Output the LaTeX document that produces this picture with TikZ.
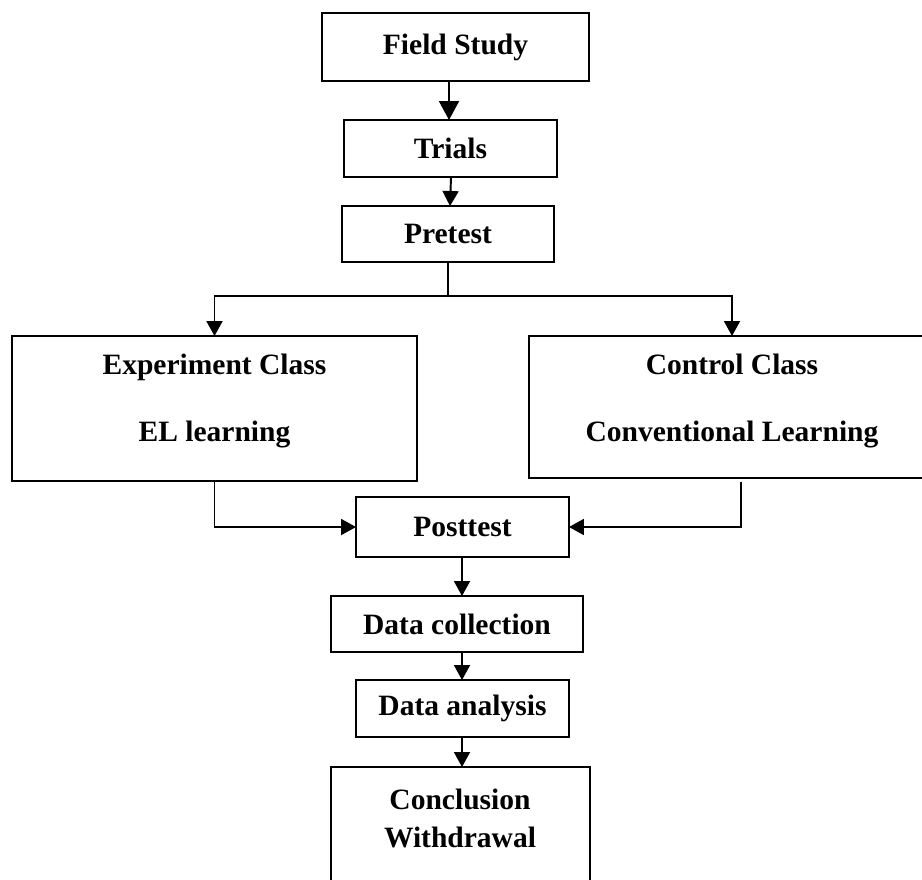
\documentclass[tikz,border=0pt]{standalone}
\usepackage{fontspec}
\setmainfont{Liberation Serif}
\usetikzlibrary{arrows.meta}
\begin{document}
\begin{tikzpicture}[x=0.02cm,y=-0.02cm,
  box/.style={draw, line width=1.1pt, inner sep=0pt, outer sep=0pt, align=center,
    font=\fontsize{16.8}{21.6}\selectfont\bfseries},
  lbl/.style={inner sep=0pt, align=center, font=\fontsize{16.8}{21.6}\selectfont\bfseries},
  arr/.style={-{Triangle[length=0.3cm,width=0.32cm]}, line width=1.1pt},
  bigarr/.style={-{Triangle[length=0.38cm,width=0.4cm]}, line width=1.1pt},
  ln/.style={line width=1.1pt}]
\useasboundingbox (0,0) rectangle (922,879);
\clip (0,0) rectangle (922,879);
\node[box, minimum width=5.34cm, minimum height=1.36cm] (fs) at (455.5,47) {Field Study};
\node[box, minimum width=4.26cm, minimum height=1.14cm] (trials) at (450.5,148.5) {Trials};
\node[box, minimum width=4.24cm, minimum height=1.12cm] (pre) at (448,234) {Pretest};
\node[box, minimum width=8.1cm, minimum height=2.9cm] (exp) at (214.5,408.5) {};
\node[lbl] (exptext) at (214.5,401) {Experiment Class\\[17pt]EL learning};
\node[box, minimum width=8.12cm, minimum height=2.84cm] (ctrl) at (732,407) {};
\node[lbl] (ctrltext) at (732,401) {Control Class\\[17pt]Conventional Learning};
\node[box, minimum width=4.26cm, minimum height=1.2cm] (post) at (462.5,527) {Posttest};
\node[box, minimum width=5.04cm, minimum height=1.12cm] (dc) at (457,624) {Data collection};
\node[box, minimum width=4.26cm, minimum height=1.14cm] (da) at (462.5,708.5) {Data analysis};
\node[box, minimum width=5.18cm, minimum height=2.66cm] (conc) at (460.5,833.5) {};
\node[lbl] (conctext) at (460,818) {Conclusion\\Withdrawal};
\coordinate (split) at (448,296);
\draw[bigarr] (fs.south -| 449,0) -- (trials.north -| 449,0);
\draw[arr] (trials.south -| 451,0) -- (pre.north -| 450,0);
\draw[ln] (pre.south -| split) -- (split);
\draw[arr] (split) -| (exp.north);
\draw[arr] (split) -| (ctrl.north);
\draw[arr] (exp.south) |- (post.west);
\coordinate (cdown) at (741,482);
\draw[arr] (cdown) |- (post.east);
\draw[arr] (post.south -| 462,0) -- (dc.north -| 462,0);
\draw[arr] (dc.south -| 462,0) -- (da.north -| 462,0);
\draw[arr] (da.south -| 462,0) -- (conc.north -| 462,0);
\end{tikzpicture}
\end{document}
